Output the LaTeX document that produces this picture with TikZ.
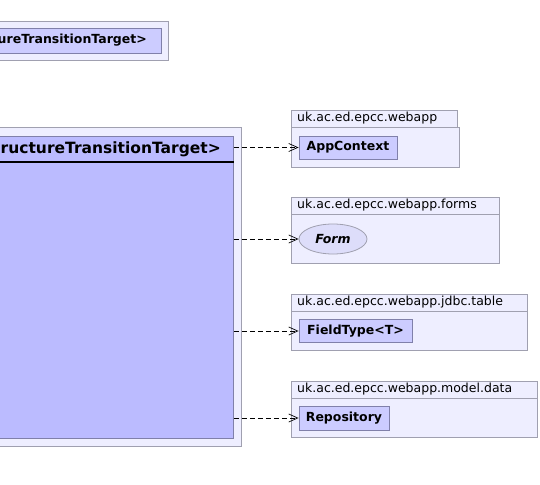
\documentclass[tikz,border=0pt]{standalone}
\usepackage{fontspec}
\setmainfont{DejaVu Sans}
\usetikzlibrary{arrows.meta,shapes.geometric}
\definecolor{pkgfill}{RGB}{238,238,255}
\definecolor{pkgline}{RGB}{160,160,176}
\definecolor{clsfill}{RGB}{204,204,255}
\definecolor{mainfill}{RGB}{187,187,255}
\definecolor{clsline}{RGB}{128,128,170}
\definecolor{ellfill}{RGB}{221,221,250}
\tikzset{
  pkgbox/.style={draw=pkgline, fill=pkgfill, line width=0.8pt},
  clsbox/.style={draw=clsline, fill=clsfill, line width=0.8pt, rectangle, inner sep=0pt,
    minimum height=23pt, font=\fontsize{12.5}{14}\selectfont\bfseries},
  ellbox/.style={draw=pkgline, fill=ellfill, line width=0.8pt, ellipse, inner sep=0pt,
    minimum width=68pt, minimum height=30pt, font=\fontsize{12.5}{14}\selectfont\bfseries\itshape},
  pkglabel/.style={anchor=west, inner sep=0pt, font=\fontsize{12.5}{14}\selectfont},
  dep/.style={draw=black, line width=0.7pt, dash pattern=on 5pt off 3pt,
    -{Straight Barb[length=9pt,width=8pt]}}
}
\begin{document}
\begin{tikzpicture}[x=1pt,y=-1pt]
\useasboundingbox (0,0) rectangle (540,484);
% top-left package
\draw[pkgbox] (-100,21) rectangle (168,60);
\node[clsbox, anchor=north west, minimum width=261pt, minimum height=25pt] (tlcls) at (-100,28) {};
\node[anchor=east, inner sep=0pt, font=\fontsize{12.5}{14}\selectfont\bfseries] (tltext) at (147,40.5) {ureTransitionTarget>};
% main package
\draw[pkgbox] (-200,127) rectangle (241,446);
\node[draw=clsline, fill=mainfill, line width=0.8pt, rectangle, anchor=north west, inner sep=0pt,
  minimum width=433pt, minimum height=302pt] (main) at (-200,136) {};
\draw[line width=2pt] (-200,162) -- (main.east |- 0,162);
\node[anchor=east, inner sep=0pt, font=\fontsize{15.5}{18}\selectfont\bfseries] (maintext) at (221,149.5) {ructureTransitionTarget>};
% package 1
\draw[pkgbox] (291,110) rectangle (457,127);
\draw[pkgbox] (291,127) rectangle (459,167);
\node[pkglabel] (p1) at (297,118.5) {uk.ac.ed.epcc.webapp};
\node[clsbox, minimum width=98pt] (app) at (348,147.5) {AppContext};
% package 2
\draw[pkgbox] (291,197) rectangle (499,214);
\draw[pkgbox] (291,214) rectangle (499,263);
\node[pkglabel] (p2) at (297,205.5) {uk.ac.ed.epcc.webapp.forms};
\node[ellbox] (form) at (333,239) {Form};
% package 3
\draw[pkgbox] (291,294) rectangle (527,311);
\draw[pkgbox] (291,311) rectangle (527,350);
\node[pkglabel] (p3) at (297,302.5) {uk.ac.ed.epcc.webapp.jdbc.table};
\node[clsbox, minimum width=113pt] (field) at (355.5,331) {FieldType<T>};
% package 4
\draw[pkgbox] (291,381) rectangle (537,398);
\draw[pkgbox] (291,398) rectangle (537,437);
\node[pkglabel] (p4) at (297,389.5) {uk.ac.ed.epcc.webapp.model.data};
\node[clsbox, minimum width=90pt, minimum height=24pt] (repo) at (344,418) {Repository};
% dependencies
\draw[dep] (main.east |- app.west) -- (app.west);
\draw[dep] (main.east |- form.west) -- (form.west);
\draw[dep] (main.east |- field.west) -- (field.west);
\draw[dep] (main.east |- repo.west) -- (repo.west);
\end{tikzpicture}
\end{document}
